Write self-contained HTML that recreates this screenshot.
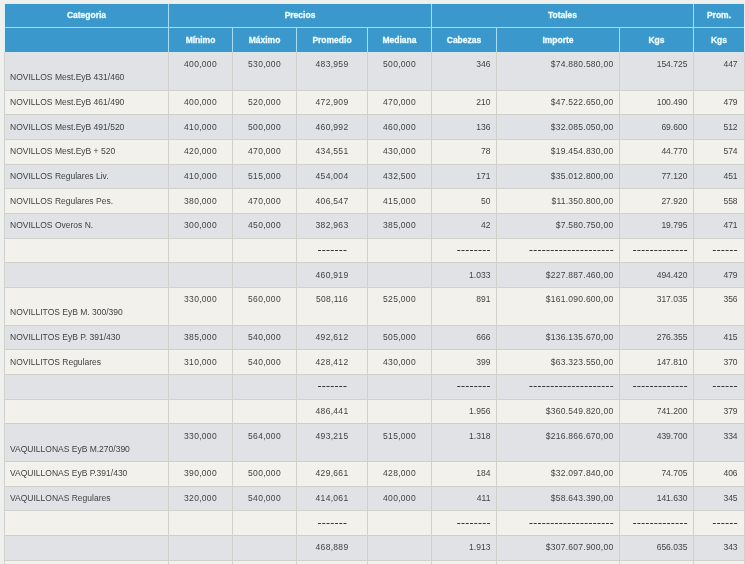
<!DOCTYPE html>
<html><head><meta charset="utf-8"><title>Tabla</title><style>
html,body{margin:0;padding:0;}
body{width:745px;height:564px;overflow:hidden;position:relative;background:#eef0ed;font-family:"Liberation Sans",sans-serif;}
.r{position:absolute;}
.t,.tc,.td,.h{will-change:transform;}
.t,.tc,.td,.h{position:absolute;height:20px;line-height:20px;white-space:nowrap;font-size:8.5px;color:#424242;}
.tc{letter-spacing:0.3px;}
.td{letter-spacing:1.35px;}
.h{font-weight:bold;color:#eafcff;font-size:8.5px;-webkit-text-stroke:0.3px #eafcff;}
.t,.tc,.td{}
.ti{letter-spacing:0.25px;}
</style></head>
<body>
<div class="r" style="left:4px;top:3px;width:741px;height:50px;background:#d6f2fb"></div>
<div class="r" style="left:5px;top:4px;width:739px;height:23px;background:#3b98cc"></div>
<div class="r" style="left:5px;top:28px;width:739px;height:24px;background:#3b98cc"></div>
<div class="r" style="left:5px;top:27px;width:739px;height:1px;background:#a6dcf5"></div>
<div class="r" style="left:4px;top:52px;width:741px;height:38px;background:#d0d0cc"></div>
<div class="r" style="left:5px;top:52px;width:739px;height:38px;background:#e0e2e6"></div>
<div class="r" style="left:4px;top:90px;width:741px;height:24px;background:#d0d0cc"></div>
<div class="r" style="left:5px;top:91px;width:739px;height:23px;background:#f2f1ec"></div>
<div class="r" style="left:4px;top:114px;width:741px;height:25px;background:#d0d0cc"></div>
<div class="r" style="left:5px;top:115px;width:739px;height:24px;background:#e0e2e6"></div>
<div class="r" style="left:4px;top:139px;width:741px;height:25px;background:#d0d0cc"></div>
<div class="r" style="left:5px;top:140px;width:739px;height:24px;background:#f2f1ec"></div>
<div class="r" style="left:4px;top:164px;width:741px;height:24px;background:#d0d0cc"></div>
<div class="r" style="left:5px;top:165px;width:739px;height:23px;background:#e0e2e6"></div>
<div class="r" style="left:4px;top:188px;width:741px;height:25px;background:#d0d0cc"></div>
<div class="r" style="left:5px;top:189px;width:739px;height:24px;background:#f2f1ec"></div>
<div class="r" style="left:4px;top:213px;width:741px;height:25px;background:#d0d0cc"></div>
<div class="r" style="left:5px;top:214px;width:739px;height:24px;background:#e0e2e6"></div>
<div class="r" style="left:4px;top:238px;width:741px;height:24px;background:#d0d0cc"></div>
<div class="r" style="left:5px;top:239px;width:739px;height:23px;background:#f2f1ec"></div>
<div class="r" style="left:4px;top:262px;width:741px;height:25px;background:#d0d0cc"></div>
<div class="r" style="left:5px;top:263px;width:739px;height:24px;background:#e0e2e6"></div>
<div class="r" style="left:4px;top:287px;width:741px;height:38px;background:#d0d0cc"></div>
<div class="r" style="left:5px;top:288px;width:739px;height:37px;background:#f2f1ec"></div>
<div class="r" style="left:4px;top:325px;width:741px;height:24px;background:#d0d0cc"></div>
<div class="r" style="left:5px;top:326px;width:739px;height:23px;background:#e0e2e6"></div>
<div class="r" style="left:4px;top:349px;width:741px;height:25px;background:#d0d0cc"></div>
<div class="r" style="left:5px;top:350px;width:739px;height:24px;background:#f2f1ec"></div>
<div class="r" style="left:4px;top:374px;width:741px;height:25px;background:#d0d0cc"></div>
<div class="r" style="left:5px;top:375px;width:739px;height:24px;background:#e0e2e6"></div>
<div class="r" style="left:4px;top:399px;width:741px;height:24px;background:#d0d0cc"></div>
<div class="r" style="left:5px;top:400px;width:739px;height:23px;background:#f2f1ec"></div>
<div class="r" style="left:4px;top:423px;width:741px;height:38px;background:#d0d0cc"></div>
<div class="r" style="left:5px;top:424px;width:739px;height:37px;background:#e0e2e6"></div>
<div class="r" style="left:4px;top:461px;width:741px;height:25px;background:#d0d0cc"></div>
<div class="r" style="left:5px;top:462px;width:739px;height:24px;background:#f2f1ec"></div>
<div class="r" style="left:4px;top:486px;width:741px;height:24px;background:#d0d0cc"></div>
<div class="r" style="left:5px;top:487px;width:739px;height:23px;background:#e0e2e6"></div>
<div class="r" style="left:4px;top:510px;width:741px;height:25px;background:#d0d0cc"></div>
<div class="r" style="left:5px;top:511px;width:739px;height:24px;background:#f2f1ec"></div>
<div class="r" style="left:4px;top:535px;width:741px;height:25px;background:#d0d0cc"></div>
<div class="r" style="left:5px;top:536px;width:739px;height:24px;background:#e0e2e6"></div>
<div class="r" style="left:4px;top:560px;width:741px;height:4px;background:#d0d0cc"></div>
<div class="r" style="left:5px;top:561px;width:739px;height:3px;background:#f2f1ec"></div>
<div class="r" style="left:5px;top:52px;width:739px;height:1px;background:#dae5ec"></div>
<div class="r" style="left:4px;top:52px;width:1px;height:512px;background:#d0d0cc"></div>
<div class="r" style="left:168px;top:52px;width:1px;height:512px;background:#d0d0cc"></div>
<div class="r" style="left:232px;top:52px;width:1px;height:512px;background:#d0d0cc"></div>
<div class="r" style="left:296px;top:52px;width:1px;height:512px;background:#d0d0cc"></div>
<div class="r" style="left:367px;top:52px;width:1px;height:512px;background:#d0d0cc"></div>
<div class="r" style="left:431px;top:52px;width:1px;height:512px;background:#d0d0cc"></div>
<div class="r" style="left:496px;top:52px;width:1px;height:512px;background:#d0d0cc"></div>
<div class="r" style="left:619px;top:52px;width:1px;height:512px;background:#d0d0cc"></div>
<div class="r" style="left:693px;top:52px;width:1px;height:512px;background:#d0d0cc"></div>
<div class="r" style="left:744px;top:52px;width:1px;height:512px;background:#d0d0cc"></div>
<div class="r" style="left:168px;top:4px;width:1px;height:23px;background:#a6dcf5"></div>
<div class="r" style="left:431px;top:4px;width:1px;height:23px;background:#a6dcf5"></div>
<div class="r" style="left:693px;top:4px;width:1px;height:23px;background:#a6dcf5"></div>
<div class="r" style="left:168px;top:28px;width:1px;height:24px;background:#a6dcf5"></div>
<div class="r" style="left:232px;top:28px;width:1px;height:24px;background:#a6dcf5"></div>
<div class="r" style="left:296px;top:28px;width:1px;height:24px;background:#a6dcf5"></div>
<div class="r" style="left:367px;top:28px;width:1px;height:24px;background:#a6dcf5"></div>
<div class="r" style="left:431px;top:28px;width:1px;height:24px;background:#a6dcf5"></div>
<div class="r" style="left:496px;top:28px;width:1px;height:24px;background:#a6dcf5"></div>
<div class="r" style="left:619px;top:28px;width:1px;height:24px;background:#a6dcf5"></div>
<div class="r" style="left:693px;top:28px;width:1px;height:24px;background:#a6dcf5"></div>
<div class="h" style="left:5px;width:163px;top:4.90px;text-align:center;">Categoria</div>
<div class="h" style="left:169px;width:262px;top:4.90px;text-align:center;">Precios</div>
<div class="h" style="left:432px;width:261px;top:4.90px;text-align:center;">Totales</div>
<div class="h" style="left:694px;width:50px;top:4.90px;text-align:center;">Prom.</div>
<div class="h" style="left:169px;width:63px;top:30.00px;text-align:center;">M&iacute;nimo</div>
<div class="h" style="left:233px;width:63px;top:30.00px;text-align:center;">M&aacute;ximo</div>
<div class="h" style="left:297px;width:70px;top:30.00px;text-align:center;">Promedio</div>
<div class="h" style="left:368px;width:63px;top:30.00px;text-align:center;">Mediana</div>
<div class="h" style="left:432px;width:64px;top:30.00px;text-align:center;">Cabezas</div>
<div class="h" style="left:497px;width:122px;top:30.00px;text-align:center;">Importe</div>
<div class="h" style="left:620px;width:73px;top:30.00px;text-align:center;">Kgs</div>
<div class="h" style="left:694px;width:50px;top:30.00px;text-align:center;">Kgs</div>
<div class="t" style="left:10px;width:157px;top:67.43px;text-align:left;">NOVILLOS Mest.EyB 431/460</div>
<div class="tc" style="left:169px;width:63px;top:54.23px;text-align:center;">400,000</div>
<div class="tc" style="left:233px;width:63px;top:54.23px;text-align:center;">530,000</div>
<div class="tc" style="left:297px;width:70px;top:54.23px;text-align:center;">483,959</div>
<div class="tc" style="left:368px;width:63px;top:54.23px;text-align:center;">500,000</div>
<div class="t" style="left:432px;width:58.39999999999998px;top:54.23px;text-align:right;">346</div>
<div class="t ti" style="left:497px;width:116.39999999999998px;top:54.23px;text-align:right;">$74.880.580,00</div>
<div class="t" style="left:620px;width:67.39999999999998px;top:54.23px;text-align:right;">154.725</div>
<div class="t" style="left:694px;width:43.60000000000002px;top:54.23px;text-align:right;">447</div>
<div class="t" style="left:10px;width:157px;top:91.90px;text-align:left;">NOVILLOS Mest.EyB 461/490</div>
<div class="tc" style="left:169px;width:63px;top:91.90px;text-align:center;">400,000</div>
<div class="tc" style="left:233px;width:63px;top:91.90px;text-align:center;">520,000</div>
<div class="tc" style="left:297px;width:70px;top:91.90px;text-align:center;">472,909</div>
<div class="tc" style="left:368px;width:63px;top:91.90px;text-align:center;">470,000</div>
<div class="t" style="left:432px;width:58.39999999999998px;top:91.90px;text-align:right;">210</div>
<div class="t ti" style="left:497px;width:116.39999999999998px;top:91.90px;text-align:right;">$47.522.650,00</div>
<div class="t" style="left:620px;width:67.39999999999998px;top:91.90px;text-align:right;">100.490</div>
<div class="t" style="left:694px;width:43.60000000000002px;top:91.90px;text-align:right;">479</div>
<div class="t" style="left:10px;width:157px;top:116.56px;text-align:left;">NOVILLOS Mest.EyB 491/520</div>
<div class="tc" style="left:169px;width:63px;top:116.56px;text-align:center;">410,000</div>
<div class="tc" style="left:233px;width:63px;top:116.56px;text-align:center;">500,000</div>
<div class="tc" style="left:297px;width:70px;top:116.56px;text-align:center;">460,992</div>
<div class="tc" style="left:368px;width:63px;top:116.56px;text-align:center;">460,000</div>
<div class="t" style="left:432px;width:58.39999999999998px;top:116.56px;text-align:right;">136</div>
<div class="t ti" style="left:497px;width:116.39999999999998px;top:116.56px;text-align:right;">$32.085.050,00</div>
<div class="t" style="left:620px;width:67.39999999999998px;top:116.56px;text-align:right;">69.600</div>
<div class="t" style="left:694px;width:43.60000000000002px;top:116.56px;text-align:right;">512</div>
<div class="t" style="left:10px;width:157px;top:141.23px;text-align:left;">NOVILLOS Mest.EyB + 520</div>
<div class="tc" style="left:169px;width:63px;top:141.23px;text-align:center;">420,000</div>
<div class="tc" style="left:233px;width:63px;top:141.23px;text-align:center;">470,000</div>
<div class="tc" style="left:297px;width:70px;top:141.23px;text-align:center;">434,551</div>
<div class="tc" style="left:368px;width:63px;top:141.23px;text-align:center;">430,000</div>
<div class="t" style="left:432px;width:58.39999999999998px;top:141.23px;text-align:right;">78</div>
<div class="t ti" style="left:497px;width:116.39999999999998px;top:141.23px;text-align:right;">$19.454.830,00</div>
<div class="t" style="left:620px;width:67.39999999999998px;top:141.23px;text-align:right;">44.770</div>
<div class="t" style="left:694px;width:43.60000000000002px;top:141.23px;text-align:right;">574</div>
<div class="t" style="left:10px;width:157px;top:165.90px;text-align:left;">NOVILLOS Regulares Liv.</div>
<div class="tc" style="left:169px;width:63px;top:165.90px;text-align:center;">410,000</div>
<div class="tc" style="left:233px;width:63px;top:165.90px;text-align:center;">515,000</div>
<div class="tc" style="left:297px;width:70px;top:165.90px;text-align:center;">454,004</div>
<div class="tc" style="left:368px;width:63px;top:165.90px;text-align:center;">432,500</div>
<div class="t" style="left:432px;width:58.39999999999998px;top:165.90px;text-align:right;">171</div>
<div class="t ti" style="left:497px;width:116.39999999999998px;top:165.90px;text-align:right;">$35.012.800,00</div>
<div class="t" style="left:620px;width:67.39999999999998px;top:165.90px;text-align:right;">77.120</div>
<div class="t" style="left:694px;width:43.60000000000002px;top:165.90px;text-align:right;">451</div>
<div class="t" style="left:10px;width:157px;top:190.57px;text-align:left;">NOVILLOS Regulares Pes.</div>
<div class="tc" style="left:169px;width:63px;top:190.57px;text-align:center;">380,000</div>
<div class="tc" style="left:233px;width:63px;top:190.57px;text-align:center;">470,000</div>
<div class="tc" style="left:297px;width:70px;top:190.57px;text-align:center;">406,547</div>
<div class="tc" style="left:368px;width:63px;top:190.57px;text-align:center;">415,000</div>
<div class="t" style="left:432px;width:58.39999999999998px;top:190.57px;text-align:right;">50</div>
<div class="t ti" style="left:497px;width:116.39999999999998px;top:190.57px;text-align:right;">$11.350.800,00</div>
<div class="t" style="left:620px;width:67.39999999999998px;top:190.57px;text-align:right;">27.920</div>
<div class="t" style="left:694px;width:43.60000000000002px;top:190.57px;text-align:right;">558</div>
<div class="t" style="left:10px;width:157px;top:215.23px;text-align:left;">NOVILLOS Overos N.</div>
<div class="tc" style="left:169px;width:63px;top:215.23px;text-align:center;">300,000</div>
<div class="tc" style="left:233px;width:63px;top:215.23px;text-align:center;">450,000</div>
<div class="tc" style="left:297px;width:70px;top:215.23px;text-align:center;">382,963</div>
<div class="tc" style="left:368px;width:63px;top:215.23px;text-align:center;">385,000</div>
<div class="t" style="left:432px;width:58.39999999999998px;top:215.23px;text-align:right;">42</div>
<div class="t ti" style="left:497px;width:116.39999999999998px;top:215.23px;text-align:right;">$7.580.750,00</div>
<div class="t" style="left:620px;width:67.39999999999998px;top:215.23px;text-align:right;">19.795</div>
<div class="t" style="left:694px;width:43.60000000000002px;top:215.23px;text-align:right;">471</div>
<div class="tc" style="left:297px;width:70px;top:264.57px;text-align:center;">460,919</div>
<div class="t" style="left:432px;width:58.39999999999998px;top:264.57px;text-align:right;">1.033</div>
<div class="t ti" style="left:497px;width:116.39999999999998px;top:264.57px;text-align:right;">$227.887.460,00</div>
<div class="t" style="left:620px;width:67.39999999999998px;top:264.57px;text-align:right;">494.420</div>
<div class="t" style="left:694px;width:43.60000000000002px;top:264.57px;text-align:right;">479</div>
<div class="t" style="left:10px;width:157px;top:302.43px;text-align:left;">NOVILLITOS EyB M. 300/390</div>
<div class="tc" style="left:169px;width:63px;top:289.23px;text-align:center;">330,000</div>
<div class="tc" style="left:233px;width:63px;top:289.23px;text-align:center;">560,000</div>
<div class="tc" style="left:297px;width:70px;top:289.23px;text-align:center;">508,116</div>
<div class="tc" style="left:368px;width:63px;top:289.23px;text-align:center;">525,000</div>
<div class="t" style="left:432px;width:58.39999999999998px;top:289.23px;text-align:right;">891</div>
<div class="t ti" style="left:497px;width:116.39999999999998px;top:289.23px;text-align:right;">$161.090.600,00</div>
<div class="t" style="left:620px;width:67.39999999999998px;top:289.23px;text-align:right;">317.035</div>
<div class="t" style="left:694px;width:43.60000000000002px;top:289.23px;text-align:right;">356</div>
<div class="t" style="left:10px;width:157px;top:326.90px;text-align:left;">NOVILLITOS EyB P. 391/430</div>
<div class="tc" style="left:169px;width:63px;top:326.90px;text-align:center;">385,000</div>
<div class="tc" style="left:233px;width:63px;top:326.90px;text-align:center;">540,000</div>
<div class="tc" style="left:297px;width:70px;top:326.90px;text-align:center;">492,612</div>
<div class="tc" style="left:368px;width:63px;top:326.90px;text-align:center;">505,000</div>
<div class="t" style="left:432px;width:58.39999999999998px;top:326.90px;text-align:right;">666</div>
<div class="t ti" style="left:497px;width:116.39999999999998px;top:326.90px;text-align:right;">$136.135.670,00</div>
<div class="t" style="left:620px;width:67.39999999999998px;top:326.90px;text-align:right;">276.355</div>
<div class="t" style="left:694px;width:43.60000000000002px;top:326.90px;text-align:right;">415</div>
<div class="t" style="left:10px;width:157px;top:351.57px;text-align:left;">NOVILLITOS Regulares</div>
<div class="tc" style="left:169px;width:63px;top:351.57px;text-align:center;">310,000</div>
<div class="tc" style="left:233px;width:63px;top:351.57px;text-align:center;">540,000</div>
<div class="tc" style="left:297px;width:70px;top:351.57px;text-align:center;">428,412</div>
<div class="tc" style="left:368px;width:63px;top:351.57px;text-align:center;">430,000</div>
<div class="t" style="left:432px;width:58.39999999999998px;top:351.57px;text-align:right;">399</div>
<div class="t ti" style="left:497px;width:116.39999999999998px;top:351.57px;text-align:right;">$63.323.550,00</div>
<div class="t" style="left:620px;width:67.39999999999998px;top:351.57px;text-align:right;">147.810</div>
<div class="t" style="left:694px;width:43.60000000000002px;top:351.57px;text-align:right;">370</div>
<div class="tc" style="left:297px;width:70px;top:400.90px;text-align:center;">486,441</div>
<div class="t" style="left:432px;width:58.39999999999998px;top:400.90px;text-align:right;">1.956</div>
<div class="t ti" style="left:497px;width:116.39999999999998px;top:400.90px;text-align:right;">$360.549.820,00</div>
<div class="t" style="left:620px;width:67.39999999999998px;top:400.90px;text-align:right;">741.200</div>
<div class="t" style="left:694px;width:43.60000000000002px;top:400.90px;text-align:right;">379</div>
<div class="t" style="left:10px;width:157px;top:438.77px;text-align:left;">VAQUILLONAS EyB M.270/390</div>
<div class="tc" style="left:169px;width:63px;top:425.57px;text-align:center;">330,000</div>
<div class="tc" style="left:233px;width:63px;top:425.57px;text-align:center;">564,000</div>
<div class="tc" style="left:297px;width:70px;top:425.57px;text-align:center;">493,215</div>
<div class="tc" style="left:368px;width:63px;top:425.57px;text-align:center;">515,000</div>
<div class="t" style="left:432px;width:58.39999999999998px;top:425.57px;text-align:right;">1.318</div>
<div class="t ti" style="left:497px;width:116.39999999999998px;top:425.57px;text-align:right;">$216.866.670,00</div>
<div class="t" style="left:620px;width:67.39999999999998px;top:425.57px;text-align:right;">439.700</div>
<div class="t" style="left:694px;width:43.60000000000002px;top:425.57px;text-align:right;">334</div>
<div class="t" style="left:10px;width:157px;top:463.24px;text-align:left;">VAQUILLONAS EyB P.391/430</div>
<div class="tc" style="left:169px;width:63px;top:463.24px;text-align:center;">390,000</div>
<div class="tc" style="left:233px;width:63px;top:463.24px;text-align:center;">500,000</div>
<div class="tc" style="left:297px;width:70px;top:463.24px;text-align:center;">429,661</div>
<div class="tc" style="left:368px;width:63px;top:463.24px;text-align:center;">428,000</div>
<div class="t" style="left:432px;width:58.39999999999998px;top:463.24px;text-align:right;">184</div>
<div class="t ti" style="left:497px;width:116.39999999999998px;top:463.24px;text-align:right;">$32.097.840,00</div>
<div class="t" style="left:620px;width:67.39999999999998px;top:463.24px;text-align:right;">74.705</div>
<div class="t" style="left:694px;width:43.60000000000002px;top:463.24px;text-align:right;">406</div>
<div class="t" style="left:10px;width:157px;top:487.90px;text-align:left;">VAQUILLONAS Regulares</div>
<div class="tc" style="left:169px;width:63px;top:487.90px;text-align:center;">320,000</div>
<div class="tc" style="left:233px;width:63px;top:487.90px;text-align:center;">540,000</div>
<div class="tc" style="left:297px;width:70px;top:487.90px;text-align:center;">414,061</div>
<div class="tc" style="left:368px;width:63px;top:487.90px;text-align:center;">400,000</div>
<div class="t" style="left:432px;width:58.39999999999998px;top:487.90px;text-align:right;">411</div>
<div class="t ti" style="left:497px;width:116.39999999999998px;top:487.90px;text-align:right;">$58.643.390,00</div>
<div class="t" style="left:620px;width:67.39999999999998px;top:487.90px;text-align:right;">141.630</div>
<div class="t" style="left:694px;width:43.60000000000002px;top:487.90px;text-align:right;">345</div>
<div class="tc" style="left:297px;width:70px;top:537.24px;text-align:center;">468,889</div>
<div class="t" style="left:432px;width:58.39999999999998px;top:537.24px;text-align:right;">1.913</div>
<div class="t ti" style="left:497px;width:116.39999999999998px;top:537.24px;text-align:right;">$307.607.900,00</div>
<div class="t" style="left:620px;width:67.39999999999998px;top:537.24px;text-align:right;">656.035</div>
<div class="t" style="left:694px;width:43.60000000000002px;top:537.24px;text-align:right;">343</div>
<svg width="745" height="564" style="position:absolute;left:0;top:0" fill="#3a3a3a"><rect x="318.00" y="250" width="3" height="1"/><rect x="322.25" y="250" width="3" height="1"/><rect x="326.50" y="250" width="3" height="1"/><rect x="330.75" y="250" width="3" height="1"/><rect x="335.00" y="250" width="3" height="1"/><rect x="339.25" y="250" width="3" height="1"/><rect x="343.50" y="250" width="3" height="1"/><rect x="457.25" y="250" width="3" height="1"/><rect x="461.50" y="250" width="3" height="1"/><rect x="465.75" y="250" width="3" height="1"/><rect x="470.00" y="250" width="3" height="1"/><rect x="474.25" y="250" width="3" height="1"/><rect x="478.50" y="250" width="3" height="1"/><rect x="482.75" y="250" width="3" height="1"/><rect x="487.00" y="250" width="3" height="1"/><rect x="529.45" y="250" width="3" height="1"/><rect x="533.70" y="250" width="3" height="1"/><rect x="537.95" y="250" width="3" height="1"/><rect x="542.20" y="250" width="3" height="1"/><rect x="546.45" y="250" width="3" height="1"/><rect x="550.70" y="250" width="3" height="1"/><rect x="554.95" y="250" width="3" height="1"/><rect x="559.20" y="250" width="3" height="1"/><rect x="563.45" y="250" width="3" height="1"/><rect x="567.70" y="250" width="3" height="1"/><rect x="571.95" y="250" width="3" height="1"/><rect x="576.20" y="250" width="3" height="1"/><rect x="580.45" y="250" width="3" height="1"/><rect x="584.70" y="250" width="3" height="1"/><rect x="588.95" y="250" width="3" height="1"/><rect x="593.20" y="250" width="3" height="1"/><rect x="597.45" y="250" width="3" height="1"/><rect x="601.70" y="250" width="3" height="1"/><rect x="605.95" y="250" width="3" height="1"/><rect x="610.20" y="250" width="3" height="1"/><rect x="633.10" y="250" width="3" height="1"/><rect x="637.35" y="250" width="3" height="1"/><rect x="641.60" y="250" width="3" height="1"/><rect x="645.85" y="250" width="3" height="1"/><rect x="650.10" y="250" width="3" height="1"/><rect x="654.35" y="250" width="3" height="1"/><rect x="658.60" y="250" width="3" height="1"/><rect x="662.85" y="250" width="3" height="1"/><rect x="667.10" y="250" width="3" height="1"/><rect x="671.35" y="250" width="3" height="1"/><rect x="675.60" y="250" width="3" height="1"/><rect x="679.85" y="250" width="3" height="1"/><rect x="684.10" y="250" width="3" height="1"/><rect x="712.85" y="250" width="3" height="1"/><rect x="717.10" y="250" width="3" height="1"/><rect x="721.35" y="250" width="3" height="1"/><rect x="725.60" y="250" width="3" height="1"/><rect x="729.85" y="250" width="3" height="1"/><rect x="734.10" y="250" width="3" height="1"/><rect x="318.00" y="386" width="3" height="1"/><rect x="322.25" y="386" width="3" height="1"/><rect x="326.50" y="386" width="3" height="1"/><rect x="330.75" y="386" width="3" height="1"/><rect x="335.00" y="386" width="3" height="1"/><rect x="339.25" y="386" width="3" height="1"/><rect x="343.50" y="386" width="3" height="1"/><rect x="457.25" y="386" width="3" height="1"/><rect x="461.50" y="386" width="3" height="1"/><rect x="465.75" y="386" width="3" height="1"/><rect x="470.00" y="386" width="3" height="1"/><rect x="474.25" y="386" width="3" height="1"/><rect x="478.50" y="386" width="3" height="1"/><rect x="482.75" y="386" width="3" height="1"/><rect x="487.00" y="386" width="3" height="1"/><rect x="529.45" y="386" width="3" height="1"/><rect x="533.70" y="386" width="3" height="1"/><rect x="537.95" y="386" width="3" height="1"/><rect x="542.20" y="386" width="3" height="1"/><rect x="546.45" y="386" width="3" height="1"/><rect x="550.70" y="386" width="3" height="1"/><rect x="554.95" y="386" width="3" height="1"/><rect x="559.20" y="386" width="3" height="1"/><rect x="563.45" y="386" width="3" height="1"/><rect x="567.70" y="386" width="3" height="1"/><rect x="571.95" y="386" width="3" height="1"/><rect x="576.20" y="386" width="3" height="1"/><rect x="580.45" y="386" width="3" height="1"/><rect x="584.70" y="386" width="3" height="1"/><rect x="588.95" y="386" width="3" height="1"/><rect x="593.20" y="386" width="3" height="1"/><rect x="597.45" y="386" width="3" height="1"/><rect x="601.70" y="386" width="3" height="1"/><rect x="605.95" y="386" width="3" height="1"/><rect x="610.20" y="386" width="3" height="1"/><rect x="633.10" y="386" width="3" height="1"/><rect x="637.35" y="386" width="3" height="1"/><rect x="641.60" y="386" width="3" height="1"/><rect x="645.85" y="386" width="3" height="1"/><rect x="650.10" y="386" width="3" height="1"/><rect x="654.35" y="386" width="3" height="1"/><rect x="658.60" y="386" width="3" height="1"/><rect x="662.85" y="386" width="3" height="1"/><rect x="667.10" y="386" width="3" height="1"/><rect x="671.35" y="386" width="3" height="1"/><rect x="675.60" y="386" width="3" height="1"/><rect x="679.85" y="386" width="3" height="1"/><rect x="684.10" y="386" width="3" height="1"/><rect x="712.85" y="386" width="3" height="1"/><rect x="717.10" y="386" width="3" height="1"/><rect x="721.35" y="386" width="3" height="1"/><rect x="725.60" y="386" width="3" height="1"/><rect x="729.85" y="386" width="3" height="1"/><rect x="734.10" y="386" width="3" height="1"/><rect x="318.00" y="523" width="3" height="1"/><rect x="322.25" y="523" width="3" height="1"/><rect x="326.50" y="523" width="3" height="1"/><rect x="330.75" y="523" width="3" height="1"/><rect x="335.00" y="523" width="3" height="1"/><rect x="339.25" y="523" width="3" height="1"/><rect x="343.50" y="523" width="3" height="1"/><rect x="457.25" y="523" width="3" height="1"/><rect x="461.50" y="523" width="3" height="1"/><rect x="465.75" y="523" width="3" height="1"/><rect x="470.00" y="523" width="3" height="1"/><rect x="474.25" y="523" width="3" height="1"/><rect x="478.50" y="523" width="3" height="1"/><rect x="482.75" y="523" width="3" height="1"/><rect x="487.00" y="523" width="3" height="1"/><rect x="529.45" y="523" width="3" height="1"/><rect x="533.70" y="523" width="3" height="1"/><rect x="537.95" y="523" width="3" height="1"/><rect x="542.20" y="523" width="3" height="1"/><rect x="546.45" y="523" width="3" height="1"/><rect x="550.70" y="523" width="3" height="1"/><rect x="554.95" y="523" width="3" height="1"/><rect x="559.20" y="523" width="3" height="1"/><rect x="563.45" y="523" width="3" height="1"/><rect x="567.70" y="523" width="3" height="1"/><rect x="571.95" y="523" width="3" height="1"/><rect x="576.20" y="523" width="3" height="1"/><rect x="580.45" y="523" width="3" height="1"/><rect x="584.70" y="523" width="3" height="1"/><rect x="588.95" y="523" width="3" height="1"/><rect x="593.20" y="523" width="3" height="1"/><rect x="597.45" y="523" width="3" height="1"/><rect x="601.70" y="523" width="3" height="1"/><rect x="605.95" y="523" width="3" height="1"/><rect x="610.20" y="523" width="3" height="1"/><rect x="633.10" y="523" width="3" height="1"/><rect x="637.35" y="523" width="3" height="1"/><rect x="641.60" y="523" width="3" height="1"/><rect x="645.85" y="523" width="3" height="1"/><rect x="650.10" y="523" width="3" height="1"/><rect x="654.35" y="523" width="3" height="1"/><rect x="658.60" y="523" width="3" height="1"/><rect x="662.85" y="523" width="3" height="1"/><rect x="667.10" y="523" width="3" height="1"/><rect x="671.35" y="523" width="3" height="1"/><rect x="675.60" y="523" width="3" height="1"/><rect x="679.85" y="523" width="3" height="1"/><rect x="684.10" y="523" width="3" height="1"/><rect x="712.85" y="523" width="3" height="1"/><rect x="717.10" y="523" width="3" height="1"/><rect x="721.35" y="523" width="3" height="1"/><rect x="725.60" y="523" width="3" height="1"/><rect x="729.85" y="523" width="3" height="1"/><rect x="734.10" y="523" width="3" height="1"/></svg>
</body></html>
